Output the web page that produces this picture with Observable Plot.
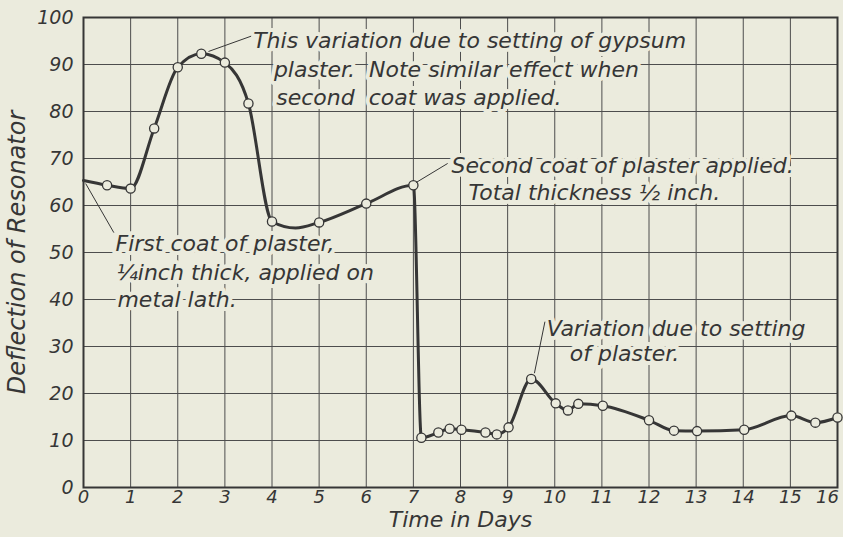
<!DOCTYPE html>
<html>
<head>
<meta charset="utf-8">
<script src="https://cdn.jsdelivr.net/npm/d3@7"></script>
<script src="https://cdn.jsdelivr.net/npm/@observablehq/plot@0.6"></script>
<style>
  html, body { margin: 0; padding: 0; background: #ebebdd; }
  svg { display: block; }
</style>
</head>
<body>
<div id="chart"></div>
<script>
// Circled readings: time in days, deflection of resonator
const readingDays = [0.5, 1, 1.5, 2, 2.5, 3, 3.5, 4, 5, 6, 7, 7.17, 7.53, 7.77, 8.02, 8.53, 8.77, 9.02, 9.5, 10.02, 10.28, 10.5, 11.02, 12, 12.53, 13.02, 14.02, 15.02, 15.53, 16];
const readingDeflection = [64.3, 63.6, 76.4, 89.4, 92.3, 90.4, 81.7, 56.6, 56.4, 60.4, 64.3, 10.6, 11.7, 12.5, 12.3, 11.7, 11.3, 12.8, 23.1, 17.9, 16.4, 17.8, 17.4, 14.3, 12.1, 12.0, 12.3, 15.3, 13.8, 14.9];

// Extra points (no circle drawn there)
const tracedDays = [0, 4.5];
const tracedDeflection = [65.3, 55.2];

// Axis ticks
const dayTicks = [0, 1, 2, 3, 4, 5, 6, 7, 8, 9, 10, 11, 12, 13, 14, 15];
const lastDayTick = [16];
const deflectionTicks = [0, 10, 20, 30, 40, 50, 60, 70, 80, 90, 100];

// Annotation lines (text, day, deflection)
const noteText = [
  "This variation due to setting of gypsum",
  "plaster.  Note similar effect when",
  "second  coat was applied.",
  "Second coat of plaster applied.",
  "Total thickness ½ inch.",
  "First coat of plaster,",
  "¼inch thick, applied on",
  "metal lath.",
  "Variation due to setting",
  "of plaster."
];
const noteDay = [3.6, 4.04, 4.09, 7.81, 8.17, 0.68, 0.70, 0.72, 9.83, 10.32];
const noteDeflection = [95.1, 88.9, 82.8, 68.5, 62.6, 51.9, 45.7, 39.8, 33.8, 28.5];

// Leader arrows (from text to curve)
const arrowFromDay = [3.55, 7.72, 0.64, 9.79];
const arrowFromDefl = [96.0, 68.9, 54.3, 35.2];
const arrowToDay = [2.66, 7.06, 0.05, 9.57];
const arrowToDefl = [92.8, 64.9, 64.6, 24.4];
const arrowBend = [15, 8, -30, 30];

const BG = "#ebebdd";
const INK = "#363636";

const readings = readingDays.map((d, i) => ({day: d, defl: readingDeflection[i]}));
const trace = readings
  .concat(tracedDays.map((d, i) => ({day: d, defl: tracedDeflection[i]})))
  .sort((a, b) => a.day - b.day);
const notes = noteText.map((t, i) => ({text: t, day: noteDay[i], defl: noteDeflection[i]}));
const arrows = arrowFromDay.map((d, i) => ({
  x1: d, y1: arrowFromDefl[i], x2: arrowToDay[i], y2: arrowToDefl[i], bend: arrowBend[i]
}));

const FONT = "DejaVu Sans";

const chart = Plot.plot({
  width: 843,
  height: 537,
  marginLeft: 83,
  marginRight: 6,
  marginTop: 17,
  marginBottom: 50,
  style: {background: BG, fontFamily: FONT, fontStyle: "italic", color: INK},
  x: {domain: [0, 16], axis: null},
  y: {domain: [0, 100], axis: null},
  marks: [
    Plot.gridX(dayTicks.concat(lastDayTick), {stroke: "#4d4d4d", strokeOpacity: 1, strokeWidth: 1}),
    Plot.gridY(deflectionTicks, {stroke: "#4d4d4d", strokeOpacity: 1, strokeWidth: 1}),
    Plot.text(notes, {
      x: "day", y: "defl", text: "text", textAnchor: "start",
      fontSize: 22, fontStyle: "italic", fontFamily: FONT,
      fill: INK, stroke: BG, strokeWidth: 8
    }),
    Plot.frame({stroke: INK, strokeWidth: 2}),
    Plot.axisX(dayTicks, {
      tickSize: 0, tickPadding: 3, fontSize: 18, label: null, fill: INK
    }),
    Plot.axisX(lastDayTick, {
      tickSize: 0, tickPadding: 3, fontSize: 18, label: null, fill: INK, dx: -10
    }),
    Plot.axisY(deflectionTicks, {
      tickSize: 0, tickPadding: 10, fontSize: 19, label: null, fill: INK
    }),
    Plot.line(trace, {
      x: "day", y: "defl", curve: "monotone-x",
      stroke: INK, strokeWidth: 3
    }),
    Plot.dot(readings, {
      x: "day", y: "defl", r: 4.6,
      fill: BG, stroke: INK, strokeWidth: 1.3
    }),
    Plot.arrow(arrows, {
      x1: "x1", y1: "y1", x2: "x2", y2: "y2", bend: d => d.bend,
      stroke: INK, strokeWidth: 1, headLength: 9
    }),
    Plot.text(["Time in Days"], {
      text: d => d, frameAnchor: "bottom", textAnchor: "middle", dy: 39,
      fontSize: 22, fontStyle: "italic", fontFamily: FONT, fill: INK
    }),
    Plot.text(["Deflection of Resonator"], {
      text: d => d, frameAnchor: "left", textAnchor: "middle", dx: -66, rotate: -90,
      fontSize: 24, fontStyle: "italic", fontFamily: FONT, fill: INK
    })
  ]
});

document.getElementById("chart").appendChild(chart);
</script>
</body>
</html>
